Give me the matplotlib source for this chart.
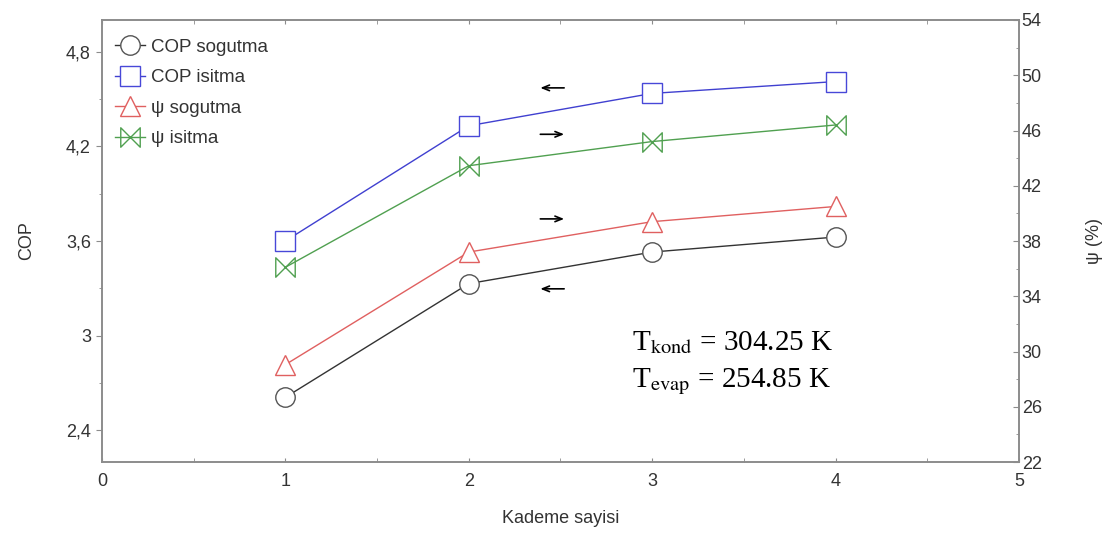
import numpy as np
import matplotlib.pyplot as plt
from matplotlib.path import Path
from matplotlib.ticker import FuncFormatter, MultipleLocator

plt.rcParams['font.family'] = ['Liberation Sans', 'DejaVu Sans']
plt.rcParams['mathtext.fontset'] = 'stix'

kademe = [1, 2, 3, 4]
cop_sogutma = [2.61, 3.33, 3.53, 3.625]
cop_isitma = [3.60, 4.33, 4.535, 4.61]
psi_sogutma = [29.05, 37.2, 39.4, 40.5]
psi_isitma = [36.1, 43.45, 45.2, 46.4]

frame = '#8c8c8c'
txt = '#333333'

# bow-tie marker: two vertical bars joined by crossing diagonals
bowtie = Path([(-1, -1), (-1, 1), (1, -1), (1, 1), (-1, -1)],
              [Path.MOVETO, Path.LINETO, Path.LINETO, Path.LINETO, Path.CLOSEPOLY])

fig = plt.figure(figsize=(11.02, 5.42), dpi=100)
ax = fig.add_axes([0.0926, 0.1476, 0.832, 0.8155])
ax2 = ax.twinx()

l1, = ax.plot(kademe, cop_sogutma, color='#333333', lw=1, marker='o', ms=14,
              mfc='white', mec='#555555', mew=1, label='COP sogutma')
l2, = ax.plot(kademe, cop_isitma, color='#4040d0', lw=1, marker='s', ms=14,
              mfc='white', mec='#4848d8', mew=1, label='COP isitma')
l3, = ax2.plot(kademe, psi_sogutma, color='#e06060', lw=1, marker='^', ms=15,
               mfc='white', mec='#e06060', mew=1, label='ψ sogutma')
l4, = ax2.plot(kademe, psi_isitma, color='#50a050', lw=1, marker=bowtie, ms=14,
               mfc='none', mec='#50a050', mew=1, label='ψ isitma')

ax.set_xlim(0, 5)
ax.set_ylim(2.2, 5.0)
ax2.set_ylim(22, 54)
ax.set_xticks([0, 1, 2, 3, 4, 5])
ax.set_yticks([2.4, 3.0, 3.6, 4.2, 4.8])
ax.yaxis.set_minor_locator(MultipleLocator(0.3))
ax.xaxis.set_minor_locator(MultipleLocator(0.5))
ax2.set_yticks(np.arange(22, 55, 4))
ax2.yaxis.set_minor_locator(MultipleLocator(2))
ax.yaxis.set_major_formatter(FuncFormatter(lambda v, p: ('%g' % round(v, 2)).replace('.', ',')))

for a in (ax, ax2):
    for s in a.spines.values():
        s.set_color(frame)
        s.set_linewidth(1.2)
ax.tick_params(axis='both', which='both', colors=frame, labelcolor=txt, labelsize=13)
ax.tick_params(axis='x', which='both', direction='in', length=3, top=True, pad=8)
ax.tick_params(axis='y', which='major', direction='out', length=4, pad=4)
ax.tick_params(axis='y', which='minor', direction='out', length=2)
ax2.tick_params(axis='y', which='both', colors=frame, labelcolor=txt, labelsize=13,
                direction='in', length=4, pad=2)
ax2.tick_params(axis='y', which='minor', length=2)

ax.set_xlabel('Kademe sayisi', fontsize=13, color=txt, labelpad=14)
ax.set_ylabel('COP', fontsize=13, color=txt, labelpad=22)
ax2.set_ylabel('ψ (%)', fontsize=13, color=txt, labelpad=32)

# arrows pointing to the axis each curve belongs to
arr = dict(arrowstyle='->,head_length=0.5,head_width=0.2', color='black', lw=1.2,
           shrinkA=0, shrinkB=0)
ax.annotate('', xy=(2.39, 4.57), xytext=(2.52, 4.57), arrowprops=arr)
ax.annotate('', xy=(2.52, 4.276), xytext=(2.39, 4.276), arrowprops=arr)
ax.annotate('', xy=(2.52, 3.74), xytext=(2.39, 3.74), arrowprops=arr)
ax.annotate('', xy=(2.39, 3.297), xytext=(2.52, 3.297), arrowprops=arr)

ax.text(0.578, 0.253, r'T$_{\mathrm{kond}}$ = 304.25 K', transform=ax.transAxes,
        fontsize=21, family='Liberation Serif', color='black', va='baseline')
ax.text(0.578, 0.17, r'T$_{\mathrm{evap}}$ = 254.85 K', transform=ax.transAxes,
        fontsize=21, family='Liberation Serif', color='black', va='baseline')

leg = ax.legend(handles=[l1, l2, l3, l4], loc='upper left', frameon=False,
                fontsize=13.5, handlelength=1.6, handletextpad=0.3,
                labelspacing=0.72, borderaxespad=0.3, markerscale=1.0,
                bbox_to_anchor=(0.0, 0.988))
for t in leg.get_texts():
    t.set_color(txt)

fig.savefig('out.png', dpi=100)
